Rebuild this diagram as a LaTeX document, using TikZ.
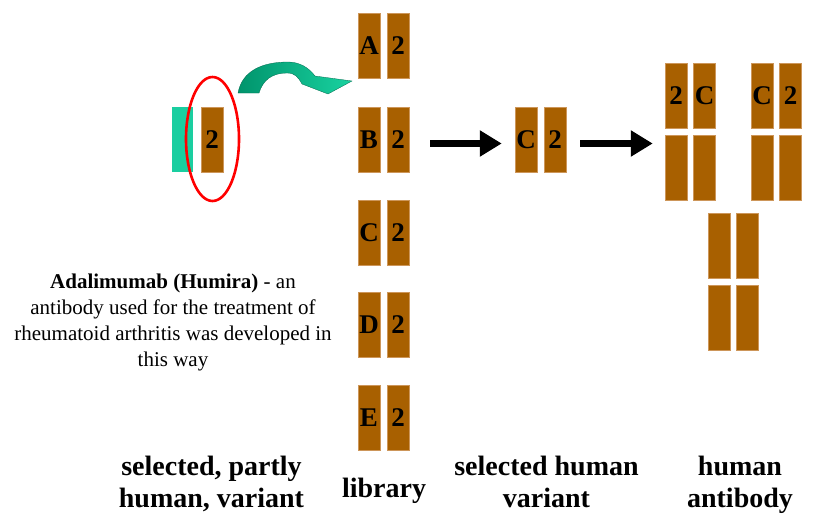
\documentclass[tikz,border=0pt]{standalone}
\usepackage{fontspec}
\setmainfont{Liberation Serif}
\usetikzlibrary{arrows.meta,shapes.geometric}
\definecolor{brn}{RGB}{168,96,0}
\definecolor{brnedge}{RGB}{205,150,90}
\definecolor{tealA}{RGB}{0,148,108}
\definecolor{tealB}{RGB}{25,210,160}
\definecolor{grn}{RGB}{26,206,160}
\begin{document}
\begin{tikzpicture}[x=1pt,y=-1pt,
  seg/.style={fill=brn, draw=brnedge, line width=0.5pt, minimum width=22pt, minimum height=65pt, inner sep=0pt, font=\fontsize{27}{27}\selectfont\bfseries},
  bigarrow/.style={line width=7.5pt, -{Triangle[length=22pt,width=25pt]}},
  lbl/.style={font=\fontsize{28}{32}\selectfont\bfseries, align=center},
  note/.style={font=\fontsize{21}{26}\selectfont, align=center},
]
\useasboundingbox (0,0) rectangle (814,514);

% selected, partly human variant
\node[fill=grn, minimum width=21pt, minimum height=65pt, inner sep=0pt] (g) at (182.5,139.5) {};
\node[seg] (p2) at (212,139.5) {2};
\node[ellipse, draw=red, line width=2.6pt, minimum width=53pt, minimum height=124pt, inner sep=0pt] (sel) at (212.5,139) {};

% curved arrow
\path[left color=tealA, right color=tealB, draw=tealA!70!black, line width=0.3pt]
  (238,93) .. controls (242,71) and (262,62) .. (288,62)
  .. controls (300,62) and (309,68) .. (315,76)
  -- (352,81) -- (328,94) -- (302,84)
  .. controls (298,77) and (295,73) .. (287,73)
  .. controls (272,73) and (263,80) .. (259,93) -- cycle;

% library
\foreach \L/\y in {A/46,B/139.5,C/232.5,D/325,E/418}{
  \node[seg] (l\L1) at (369,\y) {\L};
  \node[seg] (l\L2) at (398,\y) {2};
}

% selected human variant
\node[seg] (mC) at (526,139.5) {C};
\node[seg] (m2) at (555,139.5) {2};

% human antibody
\node[seg] (h1) at (676,96) {2};
\node[seg] (h2) at (704.5,96) {C};
\node[seg] (h3) at (676,168) {};
\node[seg] (h4) at (704.5,168) {};
\node[seg] (h5) at (762,96) {C};
\node[seg] (h6) at (790.5,96) {2};
\node[seg] (h7) at (762,168) {};
\node[seg] (h8) at (790.5,168) {};
\node[seg] (h9) at (719,246) {};
\node[seg] (h10) at (747.5,246) {};
\node[seg] (h11) at (719,318) {};
\node[seg] (h12) at (747.5,318) {};

% arrows
\coordinate (a1s) at ([xshift=21pt,yshift=-4pt]lB2.east);
\coordinate (a1e) at ([xshift=-13pt,yshift=-4pt]mC.west);
\draw[bigarrow] (a1s) -- (a1e);
\coordinate (a2s) at ([xshift=14pt,yshift=-4pt]m2.east);
\coordinate (a2e) at ([xshift=-12pt,yshift=-4pt]h1.west |- m2.east);
\draw[bigarrow] (a2s) -- (a2e);

% notes
\node[note] (txt) at (173,322) {\textbf{Adalimumab (Humira)} - an\\antibody used for the treatment of\\rheumatoid arthritis was developed in\\this way};

% labels
\node[lbl, anchor=base] (t1) at (211.5,507) {selected, partly\\human, variant};
\node[lbl, anchor=base] (t2) at (384,497) {library};
\node[lbl, anchor=base] (t3) at (546.5,507) {selected human\\variant};
\node[lbl, anchor=base] (t4) at (740,507) {human\\antibody};
\end{tikzpicture}
\end{document}
